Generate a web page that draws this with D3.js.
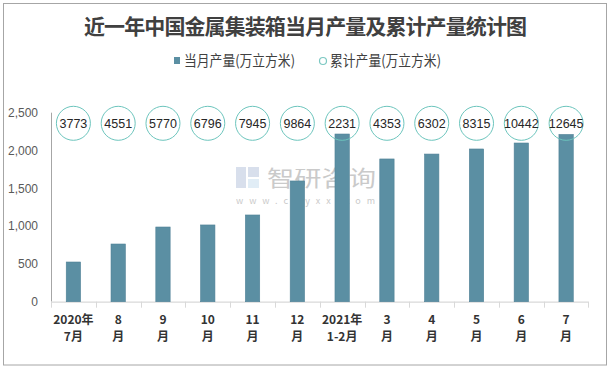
<!DOCTYPE html>
<html><head><meta charset="utf-8">
<script src="https://cdn.jsdelivr.net/npm/d3@7"></script>
<style>
html,body{margin:0;padding:0;background:#fff;}
svg{display:block;font-family:"Noto Sans CJK SC","Noto Sans",sans-serif;}
</style></head>
<body><svg id="c" width="611" height="369"></svg>
<script>
const categories = ["2020年\n7月","8\n月","9\n月","10\n月","11\n月","12\n月","2021年\n1-2月","3\n月","4\n月","5\n月","6\n月","7\n月"];
const monthly = [525, 763, 988, 1015, 1147, 1597, 2218, 1888, 1953, 2020, 2099, 2212];
const cumulative = [3773, 4551, 5770, 6796, 7945, 9864, 2231, 4353, 6302, 8315, 10442, 12645];
const yTicks = [0, 500, 1000, 1500, 2000, 2500];
const title = "近一年中国金属集装箱当月产量及累计产量统计图";
const legendLabels = ["当月产量(万立方米)", "累计产量(万立方米)"];

const svg = d3.select("#c");
svg.append("rect").attr("x",3.5).attr("y",3.5).attr("width",603).attr("height",361.5)
  .attr("fill","#fff").attr("stroke","#a6a6a6").attr("stroke-width",1);

const x = d3.scaleBand().domain(categories).range([51, 588.5]).padding(0);
const y = d3.scaleLinear().domain([0, 2500]).range([301.7, 112.7]);

// title
svg.append("text").attr("x", 84).attr("y", 34)
  .attr("font-size", 21).attr("font-weight","bold").attr("fill","#404040")
  .attr("textLength", 443).attr("lengthAdjust","spacing").text(title);

// legend
svg.append("rect").attr("x",174).attr("y",57).attr("width",6).attr("height",7).attr("fill","#5b8fa3");
svg.append("text").attr("x",184).attr("y",66).attr("font-size",14.5).attr("fill","#404040")
  .attr("textLength",111).attr("lengthAdjust","spacingAndGlyphs").text(legendLabels[0]);
svg.append("circle").attr("cx",323).attr("cy",61).attr("r",3.5).attr("fill","none").attr("stroke","#7cc8c2").attr("stroke-width",1.2);
svg.append("text").attr("x",330).attr("y",66).attr("font-size",14.5).attr("fill","#404040")
  .attr("textLength",111).attr("lengthAdjust","spacingAndGlyphs").text(legendLabels[1]);

// y axis labels
const yAxis = svg.append("g").attr("transform","translate(51,0)")
  .call(d3.axisLeft(y).tickValues(yTicks).tickFormat(d3.format(",")).tickSize(0).tickPadding(13));
yAxis.select(".domain").remove();
yAxis.selectAll("text").attr("font-size",12).attr("fill","#595959")
  .attr("font-family","'Liberation Sans',Arial,sans-serif");
svg.append("line").attr("x1",51.5).attr("x2",51.5).attr("y1",y(2500)).attr("y2",y(0))
  .attr("stroke","#a6a6a6");

// x axis
svg.append("line").attr("x1",51).attr("x2",588.5).attr("y1",y(0)+0.5).attr("y2",y(0)+0.5)
  .attr("stroke","#d9d9d9").attr("stroke-width",1.2);
const bounds = categories.map(c => x(c)).concat([x(categories[categories.length-1]) + x.bandwidth()]);
svg.selectAll(".xt").data(bounds).enter().append("line")
  .attr("x1", d => Math.round(d)+0.5).attr("x2", d => Math.round(d)+0.5)
  .attr("y1", y(0)).attr("y2", y(0)+6).attr("stroke","#d9d9d9");

categories.forEach(d => {
  const parts = d.split("\n");
  const cx = x(d) + x.bandwidth()/2;
  [0,1].forEach(k => {
    svg.append("text").attr("text-anchor","middle").attr("font-size",12).attr("font-weight","bold")
      .attr("fill","#333").attr("x", cx).attr("y", 324 + k*17).text(parts[k]);
  });
});

// watermark
const wm = svg.append("g").attr("opacity",0.55);
wm.append("rect").attr("x",236).attr("y",167).attr("width",10).attr("height",21).attr("fill","#b9c6dd");
wm.append("rect").attr("x",248).attr("y",167).attr("width",11).attr("height",10).attr("fill","#b9c6dd");
wm.append("rect").attr("x",248).attr("y",179).attr("width",11).attr("height",9).attr("fill","#c9dff0");
wm.append("text").attr("x",267).attr("y",186).attr("font-size",22).attr("fill","#a0a0a0")
  .attr("textLength",109).attr("lengthAdjust","spacingAndGlyphs").text("智研咨询");
wm.append("text").attr("x",236).attr("y",204).attr("font-size",9).attr("fill","#a0a0a0")
  .attr("textLength",139).attr("lengthAdjust","spacing").text("www.chyxx.com");

// bars
const bw = x.bandwidth() * 0.32;
svg.selectAll(".bar").data(monthly).enter().append("rect")
  .attr("x", (d,i) => x(categories[i]) + x.bandwidth()/2 - bw/2)
  .attr("y", d => y(d)).attr("width", bw).attr("height", d => y(0) - y(d))
  .attr("fill","#5b8fa3").attr("stroke","#4f8096").attr("stroke-width",0.6);

// cumulative circles
const cg = svg.selectAll(".cum").data(cumulative).enter().append("g")
  .attr("transform",(d,i) => `translate(${x(categories[i]) + x.bandwidth()/2},123.3)`);
cg.append("circle").attr("r",17).attr("fill","none").attr("stroke","#6cc5bd").attr("stroke-width",1);
cg.append("text").attr("text-anchor","middle").attr("dy","0.35em").attr("font-size",12.5)
  .attr("fill","#262626").attr("font-family","'Liberation Sans',Arial,sans-serif").text(d => d);
</script></body></html>
